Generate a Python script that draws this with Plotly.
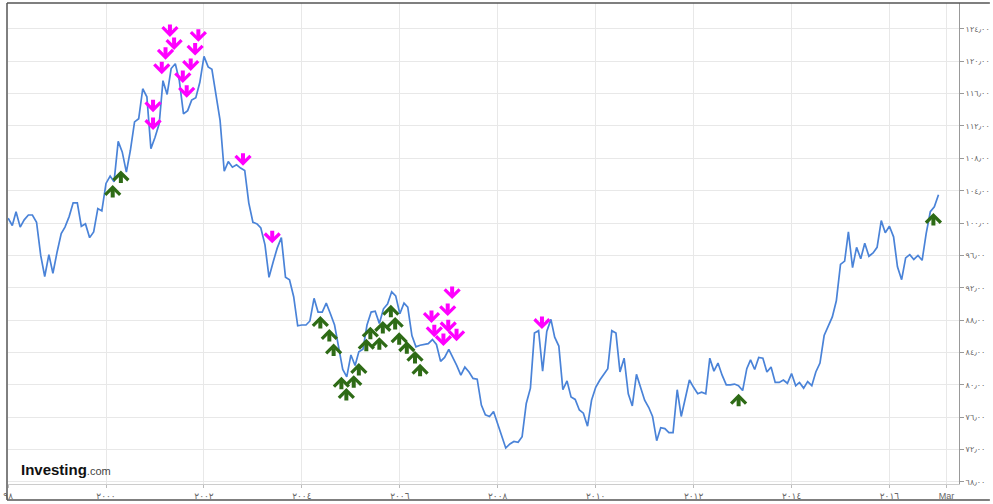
import plotly.graph_objects as go
import pandas as pd

# Monthly closes, Jan 1998 .. Jan 2017
start_month = "1998-01-01"
values = [
    100.6, 99.7, 101.4, 99.5, 100.4, 101.0, 101.0, 100.1, 96.0, 93.4, 96.1, 93.8,
    96.4, 98.7, 99.5, 100.8, 102.5, 102.5, 99.6, 99.9, 98.2, 98.9, 101.8, 101.5,
    104.9, 105.8, 105.1, 110.1, 108.8, 106.3, 109.0, 112.5, 112.9, 116.6, 115.6, 109.2,
    110.6, 112.3, 117.6, 115.9, 119.1, 119.7, 117.6, 113.5, 113.9, 115.2, 115.5, 117.4,
    120.6, 119.3, 119.0, 116.0, 112.7, 106.4, 107.6, 106.9, 107.2, 106.8, 106.5, 102.5,
    100.1, 99.9, 99.4, 97.3, 93.3, 95.2, 96.9, 98.2, 93.3, 93.0, 90.9, 87.3,
    87.4, 87.4, 87.9, 90.7, 89.0, 89.0, 90.1, 88.8, 87.4, 84.7, 81.9, 81.0,
    83.7, 82.4, 84.1, 84.4, 87.4, 89.0, 89.1, 87.6, 89.4, 90.0, 91.5, 91.0,
    88.8, 90.1, 89.6, 86.1, 84.7, 84.9, 85.0, 85.1, 85.6, 85.0, 82.9, 83.4,
    84.4, 83.4, 82.4, 81.2, 82.2, 81.6, 80.8, 80.7, 77.5, 76.3, 76.1, 76.7,
    75.2, 73.7, 72.2, 72.7, 73.0, 72.9, 73.6, 77.7, 79.6, 86.4, 86.7, 81.7,
    86.6, 88.1, 85.9, 84.8, 79.4, 80.5, 78.5, 78.2, 76.9, 76.5, 74.9, 78.1,
    79.7, 80.6, 81.3, 82.0, 86.7, 86.4, 81.6, 83.3, 78.9, 77.4, 81.3, 79.8,
    78.1, 77.2, 76.1, 73.1, 74.7, 74.6, 74.1, 74.1, 79.4, 76.1, 78.5, 80.6,
    79.7, 78.9, 79.1, 78.9, 83.3, 81.7, 82.7, 81.2, 80.0, 80.0, 80.1, 79.9,
    79.3, 82.0, 83.1, 81.9, 83.4, 83.3, 81.6, 82.2, 80.3, 80.3, 80.6, 80.2,
    81.4, 79.9, 80.3, 79.6, 80.4, 79.9, 81.6, 82.7, 86.1, 87.2, 88.4, 90.4,
    94.9, 95.3, 98.9, 94.5, 97.0, 95.6, 97.5, 95.9, 96.3, 97.0, 100.3, 98.8,
    99.6, 98.3, 94.6, 93.0, 95.7, 96.1, 95.5, 96.0, 95.4, 98.7, 101.4, 102.0,
    103.5,
]
dates = pd.date_range(start_month, periods=len(values), freq="MS")

# Sell signals (magenta down arrows): date, level of the arrow tip
sell_dates = [
    "2001-04-22", "2001-05-23", "2001-03-20", "2001-02-20", "2000-12-17", "2000-12-17",
    "2001-11-20", "2001-10-27", "2001-09-24", "2001-07-27", "2001-08-25", "2002-10-19",
    "2003-05-25", "2006-08-25", "2006-09-15", "2006-11-22", "2006-12-24", "2007-01-26",
    "2006-12-28", "2007-02-28", "2008-11-26",
]
sell_levels = [
    123.0, 121.4, 120.2, 118.4, 113.7, 111.5,
    122.4, 120.7, 118.8, 117.3, 115.5, 107.1,
    97.5, 87.65, 85.9, 84.8, 88.5, 90.6,
    86.5, 85.4, 86.9,
]

# Buy signals (green up arrows): date, level of the arrow tip
buy_dates = [
    "2000-02-20", "2000-04-21", "2004-05-18", "2004-07-24", "2004-08-25", "2004-10-22",
    "2004-11-28", "2005-01-22", "2005-03-01", "2005-04-26", "2005-05-26", "2005-08-01",
    "2005-08-27", "2005-10-26", "2005-11-27", "2005-12-27", "2006-02-22", "2006-04-24",
    "2006-06-01", "2012-12-02", "2016-11-24",
]
buy_levels = [
    104.7, 106.5, 88.5, 86.9, 85.1, 81.0,
    79.6, 81.2, 82.7, 85.7, 87.2, 85.9,
    87.9, 89.9, 88.4, 86.5, 85.4, 84.2,
    82.6, 78.9, 101.25,
]

y_tick_values = [68, 72, 76, 80, 84, 88, 92, 96, 100, 104, 108, 112, 116, 120, 124]
y_tick_labels = ["٦٨٫٠٠", "٧٢٫٠٠", "٧٦٫٠٠", "٨٠٫٠٠", "٨٤٫٠٠", "٨٨٫٠٠", "٩٢٫٠٠", "٩٦٫٠٠",
                 "١٠٠٫٠٠", "١٠٤٫٠٠", "١٠٨٫٠٠", "١١٢٫٠٠", "١١٦٫٠٠", "١٢٠٫٠٠", "١٢٤٫٠٠"]
x_tick_values = ["1998-01-01", "2000-01-01", "2002-01-01", "2004-01-01", "2006-01-01",
                 "2008-01-01", "2010-01-01", "2012-01-01", "2014-01-01", "2016-01-01",
                 "2017-03-01"]
x_tick_labels = ["٩٨", "٢٠٠٠", "٢٠٠٢", "٢٠٠٤", "٢٠٠٦", "٢٠٠٨", "٢٠١٠", "٢٠١٢",
                 "٢٠١٤", "٢٠١٦", "Mar"]

LINE = "#4a83d8"
SELL = "#ff00ff"
BUY = "#2e6b16"

fig = go.Figure()
fig.add_trace(go.Scatter(x=dates, y=values, mode="lines",
                         line=dict(color=LINE, width=1.7), hoverinfo="x+y"))

annotations = []
for d, lv in zip(sell_dates, sell_levels):
    annotations.append(dict(x=d, y=lv, xref="x", yref="y", text="", showarrow=True,
                            ax=0, ay=-14, arrowhead=4, arrowsize=0.72, arrowwidth=4,
                            arrowcolor=SELL, standoff=0))
for d, lv in zip(buy_dates, buy_levels):
    annotations.append(dict(x=d, y=lv, xref="x", yref="y", text="", showarrow=True,
                            ax=0, ay=14, arrowhead=4, arrowsize=0.72, arrowwidth=4,
                            arrowcolor=BUY, standoff=0))

annotations.append(dict(
    xref="paper", yref="paper", x=0.0115, y=0.03, xanchor="left", yanchor="middle",
    showarrow=False,
    text="<b>Investing</b><span style='font-size:11px;color:#444444'>.com</span>",
    font=dict(family="Liberation Sans, Arial", size=15, color="#111111")))

W, H = 993, 504
ml, mr, mt, mb = 7, 31, 3, 20
pw = W - ml - mr
ph = H - mt - mb
fx = lambda px: (px - ml) / pw
fy = lambda py: (H - mb - py) / ph

shapes = [
    dict(type="line", xref="paper", yref="paper", x0=fx(6), x1=fx(993), y0=fy(3), y1=fy(3),
         line=dict(color="#555555", width=1.5)),
    dict(type="line", xref="paper", yref="paper", x0=fx(6), x1=fx(6), y0=fy(3), y1=fy(500),
         line=dict(color="#555555", width=1.5)),
    dict(type="line", xref="paper", yref="paper", x0=fx(6), x1=fx(993), y0=fy(500), y1=fy(500),
         line=dict(color="#555555", width=1.5)),
]

fig.update_layout(
    width=W, height=H,
    margin=dict(l=ml, r=mr, t=mt, b=mb),
    paper_bgcolor="white", plot_bgcolor="white",
    showlegend=False,
    annotations=annotations,
    shapes=shapes,
    font=dict(family="Liberation Sans, DejaVu Sans, Arial", size=9, color="#666666"),
    xaxis=dict(
        range=["1997-12-31", "2017-06-03"],
        tickmode="array", tickvals=x_tick_values, ticktext=x_tick_labels,
        showgrid=True, gridcolor="#e8e8e8", gridwidth=1,
        showline=True, linecolor="#cccccc", linewidth=1,
        ticks="outside", ticklen=3, tickcolor="#bbbbbb",
        tickfont=dict(size=9, color="#666666"),
        zeroline=False,
    ),
    yaxis=dict(
        side="right",
        range=[67.75, 127.2],
        tickmode="array", tickvals=y_tick_values, ticktext=y_tick_labels,
        showgrid=True, gridcolor="#e8e8e8", gridwidth=1,
        showline=True, linecolor="#999999", linewidth=1,
        ticks="outside", ticklen=4, tickcolor="#999999",
        tickfont=dict(size=8, color="#666666"),
        zeroline=False,
    ),
)

fig.write_html("out.html",
               config={"displayModeBar": False},
               post_script="document.body.style.margin='0';document.body.style.overflow='hidden';")
